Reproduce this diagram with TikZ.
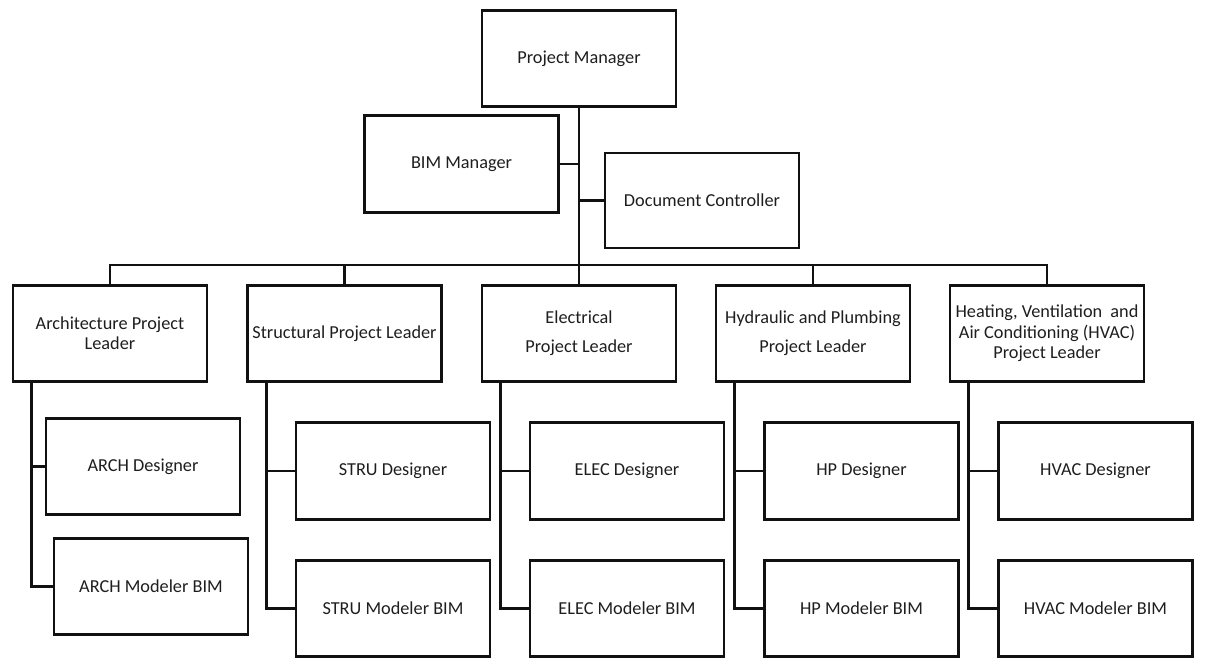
\documentclass[tikz,border=0pt]{standalone}
\usepackage{fontspec}
\setmainfont{Carlito}
\usetikzlibrary{positioning, calc}
\definecolor{trazo}{HTML}{111111}
\definecolor{texto}{HTML}{1E1E1E}

\begin{document}
\begin{tikzpicture}[x=0.2mm, y=-0.2mm, font=\fontsize{10.4}{11.6}\selectfont,
    caja/.style={draw=trazo, line width=1.6pt, text=texto, align=center, inner sep=1pt,
                 minimum width=3.88cm, minimum height=1.93cm},
    rama/.style={draw=trazo, line width=1.6pt}]
  \useasboundingbox (0,0) rectangle (1215,668);
  % direccion
  \node[caja] (pm)  at (579,58.5)  {Project Manager};
  \node[caja] (bim) at (461.5,164) {BIM Manager};
  \node[caja, minimum height=1.9cm] (dc) at (702,200.5) {Document Controller};
  % lideres
  \node[caja] (arq) at (110,333.5)   {Architecture Project\\Leader};
  \node[caja] (est) at (344.5,333.5) {Structural Project Leader};
  \node[caja] (ele) at (579,333.5)   {Electrical\\[5pt]Project Leader};
  \node[caja] (hid) at (813,333.5)   {Hydraulic and Plumbing\\[5pt]Project Leader};
  \node[caja] (cli) at (1047,333.5)  {Heating, Ventilation\ \ and\\Air Conditioning (HVAC)\\Project Leader};
  % equipos
  \node[caja] (darq) at (143,466.5) {ARCH Designer};
  \node[caja] (marq) at (151,586.5) {ARCH Modeler BIM};
  \foreach \n/\x/\t in {est/393/STRU, ele/627/ELEC, hid/861.5/HP, cli/1095.5/HVAC} {
    \node[caja] (d\n) at (\x,471)   {\t{} Designer};
    \node[caja] (m\n) at (\x,608.5) {\t{} Modeler BIM};
  }
  % conexiones
  \coordinate (bus) at (579,265);
  \draw[rama] (pm.south) -- (ele.north);
  \draw[rama] (bim.east) -- (bim.east -| pm.south);
  \draw[rama] (dc.west) -- (dc.west -| pm.south);
  \draw[rama] (arq.north) |- (bus) -| (cli.north);
  \draw[rama] (est.north) -- (est.north |- bus);
  \draw[rama] (hid.north) -- (hid.north |- bus);
  \foreach \n in {arq, est, ele, hid, cli}
    \draw[rama] ($(\n.south west)+(20,0)$) |- (m\n.west)
                ($(\n.south west)+(20,0)$) |- (d\n.west);
\end{tikzpicture}
\end{document}
